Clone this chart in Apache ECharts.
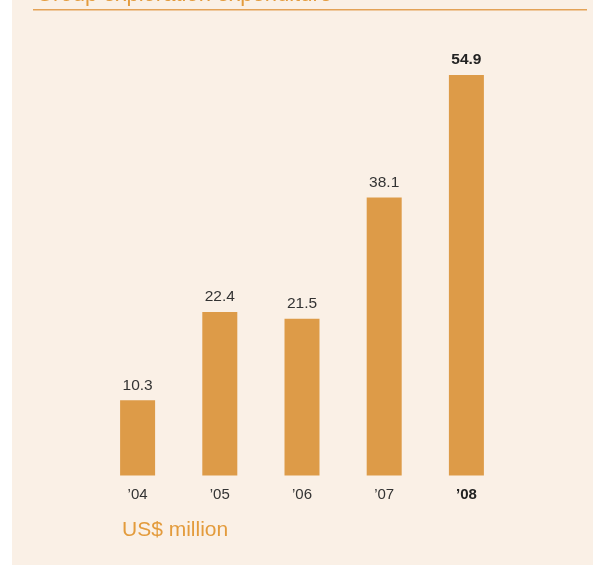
<!DOCTYPE html>
<html>
<head>
<meta charset="utf-8">
<style>
  html, body { margin: 0; padding: 0; background: #ffffff; }
  #chart { width: 593px; height: 565px; }
</style>
<script src="https://cdn.jsdelivr.net/npm/echarts@6/dist/echarts.min.js"></script>
</head>
<body>
<div id="chart"></div>
<script>
// Group exploration expenditure, US$ million
const years = ['\u201904', '\u201905', '\u201906', '\u201907', '\u201908'];
const expenditure = [10.3, 22.4, 21.5, 38.1, 54.9];
const chartTitle = 'Group exploration expenditure';
const unitLabel = 'US$ million';

const ORANGE = '#E39B3C';
const BAR = '#DD9B48';
const PANEL = '#FAF0E6';
const FONT = '"Liberation Sans", Arial, sans-serif';

const lastIdx = years.length - 1;

const chart = echarts.init(document.getElementById('chart'), null, { renderer: 'canvas' });

chart.setOption({
  animation: false,
  backgroundColor: '#ffffff',
  graphic: [
    { type: 'rect', z: -10, shape: { x: 12, y: 0, width: 581, height: 565 }, style: { fill: PANEL } },
    { type: 'rect', z: 5, shape: { x: 33, y: 9, width: 554, height: 1.6 }, style: { fill: '#E3A257' } },
    { type: 'text', z: 5, x: 36, y: 6, style: { text: chartTitle, fill: ORANGE, font: '22px ' + FONT, verticalAlign: 'bottom' } },
    { type: 'text', z: 5, x: 122, y: 530, style: { text: unitLabel, fill: ORANGE, font: '21px ' + FONT, verticalAlign: 'middle' } }
  ],
  grid: { left: 96.5, right: 85.5, top: 37.8, bottom: 89.5, containLabel: false },
  xAxis: {
    type: 'category',
    data: years,
    axisLine: { show: false },
    axisTick: { show: false },
    axisLabel: {
      margin: 12,
      fontFamily: FONT,
      fontSize: 15,
      color: '#333333',
      formatter: function (v, i) { return i === lastIdx ? '{b|' + v + '}' : v; },
      rich: { b: { fontFamily: FONT, fontSize: 15, fontWeight: 'bold', color: '#222222' } }
    }
  },
  yAxis: {
    type: 'value',
    min: 0,
    max: 60,
    show: false,
    splitLine: { show: false }
  },
  series: [{
    type: 'bar',
    data: expenditure.map(function (v, i) {
      return {
        value: v,
        label: i === lastIdx ? { fontWeight: 'bold', color: '#222222' } : undefined
      };
    }),
    barWidth: 35,
    itemStyle: { color: BAR },
    label: {
      show: true,
      position: 'top',
      distance: 7,
      fontFamily: FONT,
      fontSize: 15.5,
      color: '#333333',
      formatter: function (p) { return p.value.toFixed(1); }
    }
  }]
});
</script>
</body>
</html>
